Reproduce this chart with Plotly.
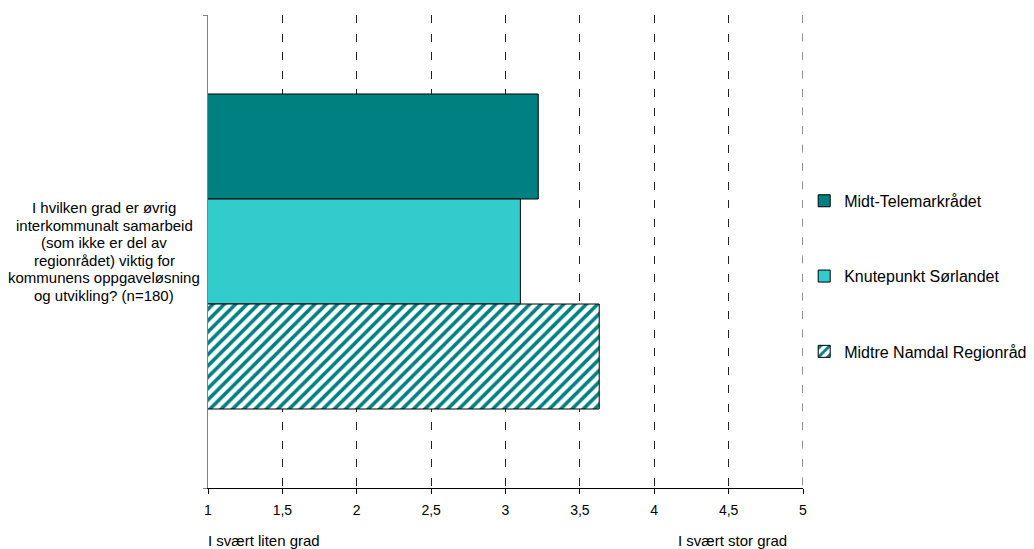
import plotly.graph_objects as go

category_lines = ["I hvilken grad er øvrig", "interkommunalt samarbeid", "(som ikke er del av",
                  "regionrådet) viktig for", "kommunens oppgaveløsning", "og utvikling? (n=180)"]
series_names = ["Midt-Telemarkrådet", "Knutepunkt Sørlandet", "Midtre Namdal Regionråd"]
series_values = [[3.22], [3.10], [3.63]]
colors = ["#008080", "#33CCCC", "#FFFFFF"]
x_ticks = [1, 1.5, 2, 2.5, 3, 3.5, 4, 4.5, 5]
x_tick_labels = ["1", "1,5", "2", "2,5", "3", "3,5", "4", "4,5", "5"]
scale_low = "I svært liten grad"
scale_high = "I svært stor grad"

FONT = "Liberation Sans, Arial, sans-serif"

fig = go.Figure()
for i, (name, vals) in enumerate(zip(series_names, series_values)):
    marker = dict(color=colors[i], line=dict(color="#000000", width=1))
    if i == 2:
        marker["pattern"] = dict(shape="/", fgcolor="#008080", bgcolor="#FFFFFF",
                                 size=8, solidity=0.45, fillmode="replace")
    fig.add_trace(go.Bar(
        y=[" ".join(category_lines)], x=vals, orientation="h", name=name,
        marker=marker, legendgroup=name,
    ))

fig.update_layout(
    width=1026, height=541,
    margin=dict(l=200, r=231, t=7, b=61, autoexpand=False),
    paper_bgcolor="white", plot_bgcolor="white",
    barmode="group", bargap=0.334, bargroupgap=0,
    font=dict(family=FONT, size=14, color="#000000"),
    showlegend=True,
    legend=dict(x=1.002, xanchor="left", y=0.643, yanchor="top",
                font=dict(size=16), tracegroupgap=51.5,
                bgcolor="rgba(0,0,0,0)"),
    xaxis=dict(range=[1, 5], tickmode="array", tickvals=x_ticks, ticktext=x_tick_labels,
               showgrid=True, gridcolor="#222222", griddash="8px,10.5px", gridwidth=1,
               showline=True, linecolor="#000000", linewidth=1,
               ticks="outside", ticklen=5, tickcolor="#000000",
               ticklabelstandoff=4, zeroline=False, fixedrange=True,
               tickfont=dict(size=14)),
    yaxis=dict(showticklabels=False, showline=True, linecolor="#808080", linewidth=1,
               ticks="outside", tickson="boundaries", ticklen=4, tickcolor="#808080",
               showgrid=False, zeroline=False, autorange="reversed", fixedrange=True),
)

# dashed gridline at the right end of the scale (plotly omits edge gridlines)
fig.add_shape(type="line", xref="x", yref="paper", x0=x_ticks[-1], x1=x_ticks[-1],
              y0=1, y1=0, line=dict(color="#222222", width=1, dash="8px,10.5px"),
              layer="below")

n = len(category_lines)
for i, line in enumerate(category_lines):
    fig.add_annotation(text=line, xref="paper", yref="paper", x=-0.174,
                       y=0.5 - (i - (n - 1) / 2) * 17.5 / 473,
                       xanchor="center", yanchor="middle", showarrow=False,
                       font=dict(size=15))
fig.add_annotation(text=scale_low, xref="paper", yref="paper", x=-0.004, y=-0.089,
                   xanchor="left", yanchor="top", showarrow=False, font=dict(size=15))
fig.add_annotation(text=scale_high, xref="paper", yref="paper", x=0.787, y=-0.089,
                   xanchor="left", yanchor="top", showarrow=False, font=dict(size=15))

fig.write_html("out.html")
